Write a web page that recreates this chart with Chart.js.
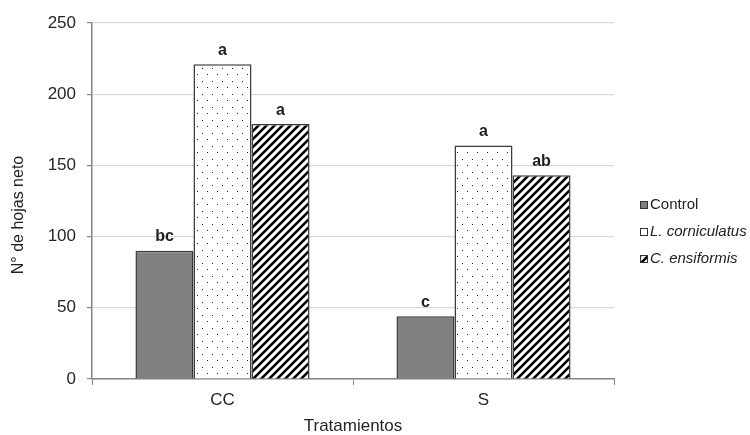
<!DOCTYPE html>
<html>
<head>
<meta charset="utf-8">
<script src="https://cdn.jsdelivr.net/npm/chart.js@4.4.1/dist/chart.umd.min.js"></script>
<style>
  html, body { margin: 0; padding: 0; background: #fff; }
  #wrap { position: relative; width: 750px; height: 435px; }
</style>
</head>
<body>
<div id="wrap"><canvas id="hojasChart" width="750" height="435"></canvas></div>
<script>
const categories = ["CC", "S"];
const seriesNames = ["Control", "L. corniculatus", "C. ensiformis"];
const controlValues = [90, 44];
const corniculatusValues = [221, 164];
const ensiformisValues = [179, 143];
const controlLetters = ["bc", "c"];
const corniculatusLetters = ["a", "a"];
const ensiformisLetters = ["a", "ab"];
const yTicks = [0, 50, 100, 150, 200, 250];

const FONT = "'Liberation Sans', Arial, sans-serif";

// dotted fill
function dotPattern() {
  const c = document.createElement("canvas");
  c.width = 10; c.height = 13;
  const g = c.getContext("2d");
  g.fillStyle = "#fff";
  g.fillRect(0, 0, 10, 13);
  g.fillStyle = "#222";
  g.fillRect(2, 3, 1, 1);
  g.fillRect(7, 9, 1, 1);
  return g.createPattern(c, "repeat");
}

// diagonal hatch fill
function hatchPattern() {
  const s = 8;
  const c = document.createElement("canvas");
  c.width = s; c.height = s;
  const g = c.getContext("2d");
  g.fillStyle = "#fff";
  g.fillRect(0, 0, s, s);
  g.strokeStyle = "#000";
  g.lineWidth = 2.6;
  g.beginPath();
  g.moveTo(-2, s + 2); g.lineTo(s + 2, -2);
  g.moveTo(-2, 2); g.lineTo(2, -2);
  g.moveTo(s - 2, s + 2); g.lineTo(s + 2, s - 2);
  g.stroke();
  return g.createPattern(c, "repeat");
}

const fills = ["#808080", dotPattern(), hatchPattern()];
const letters = [controlLetters, corniculatusLetters, ensiformisLetters];

// significance letters, legend and y title
const extras = {
  id: "extras",
  afterDatasetsDraw(chart) {
    const ctx = chart.ctx;
    ctx.save();
    ctx.font = "bold 16px " + FONT;
    ctx.fillStyle = "#1e1e1e";
    ctx.textAlign = "center";
    ctx.textBaseline = "bottom";
    chart.data.datasets.forEach((ds, i) => {
      chart.getDatasetMeta(i).data.forEach((bar, j) => {
        ctx.fillText(letters[i][j], bar.x, bar.y - 6);
      });
    });
    ctx.restore();
  },
  afterDraw(chart) {
    const ctx = chart.ctx;
    ctx.save();
    const ys = [205, 232, 259];
    seriesNames.forEach((name, i) => {
      ctx.fillStyle = fills[i];
      ctx.fillRect(640, ys[i] - 4, 8, 8);
      ctx.strokeStyle = "#333";
      ctx.lineWidth = 1;
      ctx.strokeRect(640.5, ys[i] - 3.5, 7, 7);
      ctx.fillStyle = "#222";
      ctx.font = (i === 0 ? "" : "italic ") + "15px " + FONT;
      ctx.textBaseline = "middle";
      ctx.textAlign = "left";
      ctx.fillText(name, 650, ys[i]);
    });
    ctx.translate(19, 215);
    ctx.rotate(-Math.PI / 2);
    ctx.font = "16px " + FONT;
    ctx.textAlign = "center";
    ctx.textBaseline = "middle";
    ctx.fillText("N° de hojas neto", 0, 0);
    ctx.restore();
  }
};

new Chart(document.getElementById("hojasChart"), {
  type: "bar",
  data: {
    labels: categories,
    datasets: [
      { label: seriesNames[0], data: controlValues, backgroundColor: fills[0] },
      { label: seriesNames[1], data: corniculatusValues, backgroundColor: fills[1] },
      { label: seriesNames[2], data: ensiformisValues, backgroundColor: fills[2] }
    ].map(d => Object.assign(d, {
      borderColor: "#3a3a3a",
      borderWidth: 1.5,
      categoryPercentage: 0.667,
      barPercentage: 1
    }))
  },
  options: {
    responsive: false,
    animation: false,
    devicePixelRatio: 1,
    layout: { padding: { top: 23, right: 136, left: 0, bottom: 0 } },
    plugins: {
      legend: { display: false },
      tooltip: { enabled: false }
    },
    scales: {
      x: {
        grid: { drawOnChartArea: false, drawTicks: true, tickLength: 6, tickColor: "#868686" },
        border: { color: "#868686", width: 1.5 },
        ticks: { color: "#262626", padding: 5, font: { family: FONT, size: 17 } },
        title: {
          display: true, text: "Tratamientos", color: "#262626",
          font: { family: FONT, size: 17 }, padding: { top: 0, bottom: -2 }
        },
        afterFit(scale) { scale.height = 56; }
      },
      y: {
        min: 0,
        max: 250,
        afterBuildTicks(scale) { scale.ticks = yTicks.map(v => ({ value: v })); },
        grid: { color: "#d9d9d9", lineWidth: 1.2, tickLength: 5, tickColor: "#868686" },
        border: { color: "#868686", width: 1.5 },
        ticks: { color: "#262626", padding: 11, font: { family: FONT, size: 17 } },
        afterFit(scale) { scale.width = 92; }
      }
    }
  },
  plugins: [extras]
});
</script>
</body>
</html>
